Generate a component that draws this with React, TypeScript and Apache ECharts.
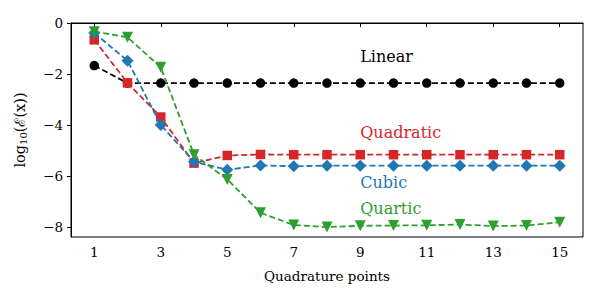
import React, { useEffect, useRef } from "react";
import * as echarts from "echarts";

const xValues = [1, 2, 3, 4, 5, 6, 7, 8, 9, 10, 11, 12, 13, 14, 15];
const linear = [-1.67, -2.36, -2.36, -2.36, -2.36, -2.36, -2.36, -2.36, -2.36, -2.36, -2.36, -2.36, -2.36, -2.36, -2.36];
const quadratic = [-0.66, -2.35, -3.69, -5.5, -5.2, -5.16, -5.17, -5.17, -5.17, -5.17, -5.17, -5.17, -5.17, -5.17, -5.17];
const cubic = [-0.39, -1.48, -4.0, -5.45, -5.76, -5.59, -5.62, -5.6, -5.6, -5.6, -5.6, -5.6, -5.6, -5.6, -5.6];
const quartic = [-0.34, -0.56, -1.74, -5.17, -6.14, -7.45, -7.93, -8.01, -7.96, -7.95, -7.94, -7.91, -7.97, -7.95, -7.82];
const xTicks = [1, 3, 5, 7, 9, 11, 13, 15];
const yTicks = [0, -2, -4, -6, -8];
const seriesNames = ["Linear", "Quadratic", "Cubic", "Quartic"];
const labelX = [9, 9, 9, 9];
const labelY = [-1.31, -4.28, -6.28, -7.29];

const FONT = "DejaVu Serif";
const colors = ["#000000", "#d62728", "#1f77b4", "#2ca02c"];
const symbols = ["circle", "rect", "diamond", "triangle"];
const symbolSizes = [9.5, 9.5, 12, 11];
const rotates = [0, 0, 0, 180];

const fmt = (v: number) => (v < 0 ? "\u2212" + Math.abs(v) : String(v));

export default function App() {
  const ref = useRef<HTMLDivElement>(null);
  useEffect(() => {
    const chart = echarts.init(ref.current!, null, { renderer: "svg" });
    const allData = [linear, quadratic, cubic, quartic];
    const series = allData.map((d, i) => ({
      name: seriesNames[i],
      type: "line",
      data: xValues.map((x, j) => [x, d[j]]),
      symbol: symbols[i],
      symbolSize: symbolSizes[i],
      symbolRotate: rotates[i],
      showAllSymbol: true,
      itemStyle: { color: colors[i], borderWidth: 0 },
      lineStyle: { color: colors[i], width: 1.8, type: [6, 3] },
      z: 2 + i,
    }));
    chart.setOption({
      animation: false,
      grid: {
        left: 71,
        right: 17,
        top: 23,
        bottom: 63,
        show: true,
        borderColor: "#000",
        borderWidth: 1,
        backgroundColor: "transparent",
      },
      xAxis: {
        type: "value",
        min: 0.3,
        max: 15.7,
        name: "Quadrature points",
        nameLocation: "middle",
        nameGap: 32,
        nameTextStyle: { fontFamily: FONT, fontSize: 13.5, color: "#000" },
        axisLine: { show: true, lineStyle: { color: "#000", width: 1 } },
        axisTick: { show: true, length: 4, lineStyle: { color: "#000" }, customValues: xTicks },
        axisLabel: {
          customValues: xTicks,
          fontFamily: FONT,
          fontSize: 13.5,
          color: "#000",
          margin: 8,
          formatter: fmt,
        },
        splitLine: { show: false },
      },
      yAxis: {
        type: "value",
        min: -8.4,
        max: 0,
        name: "{n|log}{s|10}{n|(ℰ(x))}",
        nameLocation: "middle",
        nameRotate: 90,
        nameGap: 42,
        nameTextStyle: {
          fontFamily: FONT,
          fontSize: 14,
          color: "#000",
          rich: {
            n: { fontFamily: FONT, fontSize: 14.5, color: "#000", lineHeight: 18 },
            s: { fontFamily: FONT, fontSize: 10, color: "#000", lineHeight: 18, padding: [6, 0, 0, 0] },
          },
        },
        axisLine: { show: true, lineStyle: { color: "#000", width: 1 } },
        axisTick: { show: true, length: 4, lineStyle: { color: "#000" }, customValues: yTicks },
        axisLabel: {
          customValues: yTicks,
          fontFamily: FONT,
          fontSize: 13.5,
          color: "#000",
          margin: 8,
          formatter: fmt,
        },
        splitLine: { show: false },
      },
      series,
    });
    const graphics = seriesNames.map((name, i) => {
      const p = chart.convertToPixel({ gridIndex: 0 }, [labelX[i], labelY[i]]) as number[];
      return {
        type: "text",
        x: p[0],
        y: p[1],
        z: 10,
        style: {
          text: name,
          fill: colors[i],
          font: `16px "${FONT}"`,
          textAlign: "left",
          textVerticalAlign: "middle",
          verticalAlign: "middle",
        },
      };
    });
    chart.setOption({ graphic: graphics });
    return () => chart.dispose();
  }, []);
  return (
    <div
      ref={ref}
      style={{ position: "fixed", left: 0, top: 0, width: 600, height: 300, background: "#fff" }}
    />
  );
}
